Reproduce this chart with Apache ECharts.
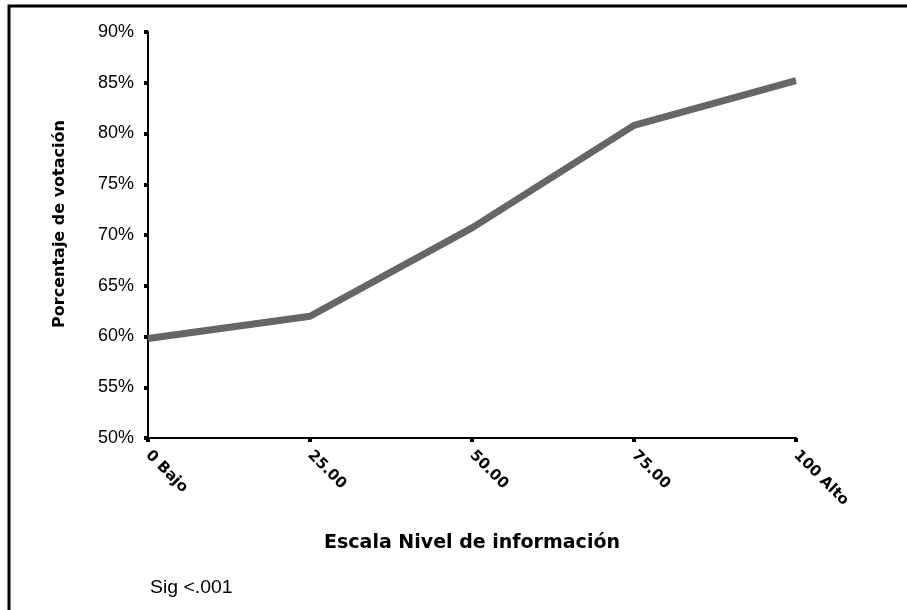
<!DOCTYPE html>
<html>
<head>
<meta charset="utf-8">
<script src="https://cdn.jsdelivr.net/npm/echarts@6/dist/echarts.min.js"></script>
<style>
  html, body { margin: 0; padding: 0; background: #fff; }
  #main { width: 907px; height: 610px; }
</style>
</head>
<body>
<div id="main"></div>
<script>
// categorias del eje x
var categorias = ['0 Bajo', '25.00', '50.00', '75.00', '100 Alto'];
// porcentaje de votacion
var votacion = [59.8, 62.0, 70.7, 80.8, 85.2];
// eje y
var yMin = 50, yMax = 90, yPaso = 5;

var chart = echarts.init(document.getElementById('main'));

var option = {
    backgroundColor: '#fff',
    animation: false,
    // marco exterior, titulo del eje y, nota
    graphic: [
        {
            type: 'rect',
            shape: { x: 9, y: 6, width: 1000, height: 1000 },
            style: { fill: 'none', stroke: '#000', lineWidth: 3 }
        },
        {
            type: 'text',
            x: 60, y: 224,
            rotation: Math.PI / 2,
            style: {
                text: 'Porcentaje de votación', fill: '#000',
                font: 'bold 16px "DejaVu Sans", sans-serif',
                align: 'center', verticalAlign: 'middle'
            }
        },
        {
            type: 'text',
            x: 150, y: 579,
            scaleX: 1.08,
            style: { text: 'Sig <.001', fill: '#000', font: '18px "Liberation Sans", Arial, sans-serif' }
        }
    ],
    grid: { left: 148, top: 32, right: 111, bottom: 172 },
    xAxis: {
        type: 'category',
        boundaryGap: false,
        data: categorias,
        name: 'Escala Nivel de información',
        nameLocation: 'middle',
        nameGap: 96,
        nameTextStyle: { color: '#000', fontSize: 19, fontWeight: 'bold', fontFamily: 'DejaVu Sans' },
        axisLine: { lineStyle: { color: '#000', width: 2 } },
        axisTick: { length: 4, lineStyle: { color: '#000', width: 4 } },
        axisLabel: { rotate: -45, margin: 15, color: '#000', fontSize: 15, fontWeight: 'bold', fontFamily: 'DejaVu Sans' }
    },
    yAxis: {
        type: 'value',
        min: yMin, max: yMax, interval: yPaso,
        splitLine: { show: false },
        axisLine: { show: true, lineStyle: { color: '#000', width: 2 } },
        axisTick: { show: true, length: 4, lineStyle: { color: '#000', width: 4 } },
        axisLabel: { formatter: '{value}%', margin: 14, color: '#000', fontSize: 18, fontFamily: 'Liberation Sans' }
    },
    series: [
        {
            type: 'line',
            data: votacion,
            symbol: 'none',
            lineStyle: { color: '#666666', width: 7 }
        }
    ]
};

chart.setOption(option);
</script>
</body>
</html>
